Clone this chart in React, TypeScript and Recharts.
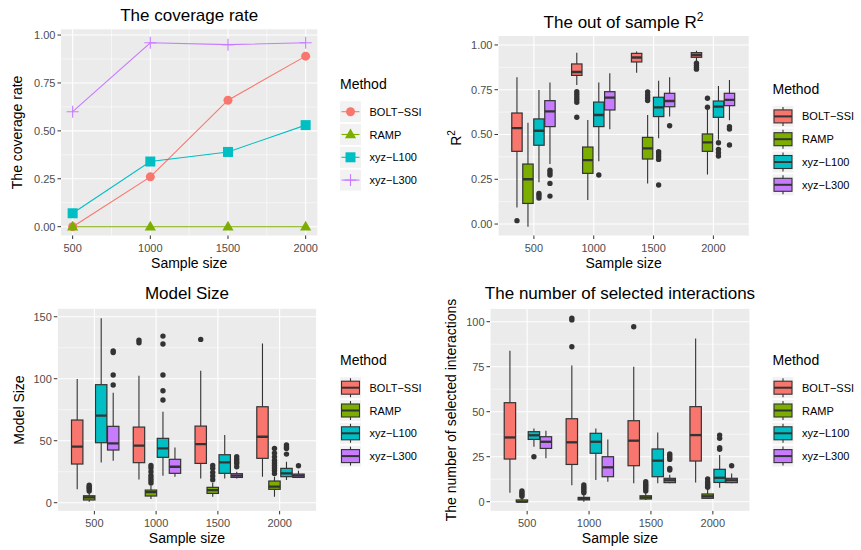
import React from 'react';
import { LineChart, Line, BarChart, Bar, XAxis, YAxis, CartesianGrid } from 'recharts';

const FONT = '"Liberation Sans", Arial, Helvetica, sans-serif';

const sampleSizes = [500, 1000, 1500, 2000];
const methodNames = ['BOLT−SSI', 'RAMP', 'xyz−L100', 'xyz−L300'];
const methodKeys = ['bolt', 'ramp', 'l100', 'l300'];
const methodColors = ['#F8766D', '#7CAE00', '#00BFC4', '#C77CFF'];
const markerKinds = ['circle', 'triangle', 'square', 'plus'];

// coverage rate
const coverageBolt = [0, 0.26, 0.66, 0.89];
const coverageRamp = [0, 0, 0, 0];
const coverageL100 = [0.07, 0.34, 0.39, 0.53];
const coverageL300 = [0.6, 0.96, 0.95, 0.96];

// box stats: [lower whisker, Q1, median, Q3, upper whisker] per sample size
const r2Bolt = [[0.093, 0.406, 0.536, 0.62, 0.819], [0.776, 0.83, 0.849, 0.894, 0.957], [0.845, 0.905, 0.93, 0.953, 0.963], [0.907, 0.931, 0.944, 0.957, 0.968]];
const r2Ramp = [[-0.015, 0.115, 0.25, 0.335, 0.566], [0.134, 0.283, 0.357, 0.43, 0.581], [0.227, 0.363, 0.423, 0.484, 0.609], [0.276, 0.406, 0.456, 0.503, 0.64]];
const r2L100 = [[0.233, 0.44, 0.521, 0.587, 0.749], [0.35, 0.544, 0.609, 0.681, 0.791], [0.479, 0.6, 0.652, 0.708, 0.8], [0.47, 0.596, 0.656, 0.687, 0.771]];
const r2L300 = [[0.335, 0.544, 0.629, 0.689, 0.791], [0.529, 0.637, 0.706, 0.739, 0.842], [0.6, 0.655, 0.687, 0.73, 0.819], [0.58, 0.661, 0.693, 0.73, 0.805]];
const r2BoltOut = [[0.019], [0.739, 0.725, 0.71, 0.695, 0.68, 0.596], [], [0.898, 0.886, 0.875, 0.865]];
const r2RampOut = [[], [], [0.737, 0.72, 0.705, 0.69], [0.652, 0.702]];
const r2L100Out = [[0.171, 0.16, 0.145], [0.274], [0.404, 0.391, 0.376, 0.361, 0.218], [0.454, 0.417, 0.398, 0.38]];
const r2L300Out = [[0.3, 0.287, 0.274, 0.227, 0.156], [], [0.549], [0.544, 0.531, 0.441]];

const sizeBolt = [[10.8, 31.2, 45.2, 66.7, 99.7], [18.8, 32.3, 46, 61, 102.4], [19.6, 31.7, 47.3, 61.8, 106.5], [21, 35.8, 53.2, 77.4, 128.5]];
const sizeRamp = [[0.8, 2.2, 4.3, 5.6, 8], [3, 5.4, 8.6, 10.2, 14], [4.8, 7.5, 10.2, 12.4, 16], [4.8, 10.8, 12.9, 17.5, 21]];
const sizeL100 = [[32.5, 48.4, 70.2, 95.2, 148.7], [21.8, 36.6, 43.8, 51.9, 73.4], [19.6, 23.7, 32.5, 38.7, 54.6], [18.3, 21, 23.7, 27.7, 33]];
const sizeL300 = [[33.9, 42.5, 47.8, 61.6, 88.7], [21, 23.7, 29, 35, 44.6], [19.6, 20.4, 21.8, 23.4, 25], [20.2, 20.4, 21.8, 23.1, 25.8]];
const sizeBoltOut = [[], [131, 129], [131.7], []];
const sizeRampOut = [[9.5, 11, 12, 13, 14.2], [16, 18, 20, 22, 25, 28, 30], [18.5, 21.5, 24.5, 27.7, 30], [23.5, 26, 28, 30, 32, 34, 37, 40, 43.8]];
const sizeL100Out = [[], [134.4, 128, 103, 90.3, 82.8], [], [46.5, 45, 43.8, 39.2]];
const sizeL300Out = [[121.2, 122.5, 103, 94.9], [], [37.1, 35, 33, 31.7, 29], [29.8]];

const interBolt = [[5, 23.7, 35.7, 55, 83.9], [9.1, 20.7, 33, 46.1, 75.6], [10.2, 20, 33.9, 45, 75], [10.7, 22.6, 37, 52.8, 90.7]];
const interRamp = [[0, 0, 0, 1, 2], [0, 1, 1.7, 2.4, 4], [0.9, 1.5, 2.4, 3.3, 5], [1.5, 1.9, 3, 4.3, 7]];
const interL100 = [[30.6, 34.6, 36.9, 38.9, 40.7], [12, 26.9, 33.3, 38, 40.7], [10.2, 13.9, 22.8, 29.3, 38.5], [7.8, 10.7, 13.3, 18, 26]];
const interL300 = [[24.1, 29.6, 33.3, 36.1, 39.4], [11.1, 13.9, 19.1, 25, 34.6], [10.2, 10.6, 11.9, 13, 15], [10.2, 10.6, 11.9, 13, 15.7]];
const interBoltOut = [[], [102, 101, 86.1], [97.2], []];
const interRampOut = [[3, 4, 5, 6], [5, 6, 7, 8, 9.3], [6, 7, 8, 9, 10, 11.1], [8, 9, 10, 11, 12.6]];
const interL100Out = [[25], [], [], [29.1, 30, 35.2, 37]];
const interL300Out = [[], [], [17.6, 18.5, 23.5, 24.5, 25.5, 26.5], [20]];

const probTicks = [0, 0.25, 0.5, 0.75, 1];
const probMinor = [0.125, 0.375, 0.625, 0.875];
const sizeTicks = [0, 50, 100, 150];
const sizeMinor = [25, 75, 125];
const interTicks = [0, 25, 50, 75, 100];
const interMinor = [12.5, 37.5, 62.5, 87.5];

const coverageData = sampleSizes.map((s, i) => ({
  size: s,
  bolt: coverageBolt[i],
  ramp: coverageRamp[i],
  l100: coverageL100[i],
  l300: coverageL300[i],
}));

function buildBoxRows(stats: number[][][], outs: number[][][]) {
  return sampleSizes.map((s, i) => {
    const row: any = { size: String(s) };
    methodKeys.forEach((k, m) => {
      const st = stats[m][i];
      const o = outs[m][i];
      row[k] = [Math.min(st[0], ...o), Math.max(st[4], ...o)];
      row[k + 'Stats'] = st;
      row[k + 'Out'] = o;
    });
    return row;
  });
}

const r2Data = buildBoxRows([r2Bolt, r2Ramp, r2L100, r2L300], [r2BoltOut, r2RampOut, r2L100Out, r2L300Out]);
const sizeData = buildBoxRows([sizeBolt, sizeRamp, sizeL100, sizeL300], [sizeBoltOut, sizeRampOut, sizeL100Out, sizeL300Out]);
const interData = buildBoxRows([interBolt, interRamp, interL100, interL300], [interBoltOut, interRampOut, interL100Out, interL300Out]);

const INK = '#333333';
const tickStyle = { fill: '#4D4D4D', fontSize: 11, fontFamily: FONT };

function Marker({ kind, color, cx, cy }: any) {
  if (kind === 'circle') return <circle cx={cx} cy={cy} r={4.5} fill={color} />;
  if (kind === 'triangle')
    return <polygon points={`${cx},${cy - 6} ${cx - 5.6},${cy + 3.8} ${cx + 5.6},${cy + 3.8}`} fill={color} />;
  if (kind === 'square') return <rect x={cx - 5} y={cy - 5} width={10} height={10} fill={color} />;
  return (
    <g stroke={color} strokeWidth={1.1}>
      <line x1={cx - 6} x2={cx + 6} y1={cy} y2={cy} />
      <line x1={cx} x2={cx} y1={cy - 6} y2={cy + 6} />
    </g>
  );
}

const makeDot = (kind: string, color: string) => (props: any) => (
  <Marker key={`d-${props.index}`} kind={kind} color={color} cx={props.cx} cy={props.cy} />
);

// the bar spans [lo, hi]; inner stats placed linearly inside it
const makeBox = (key: string, color: string) => (props: any) => {
  const { x, y, width, height, payload } = props;
  const [lo, hi] = payload[key];
  const st = payload[key + 'Stats'];
  const out = payload[key + 'Out'];
  const py = (v: number) => y + (height * (hi - v)) / (hi - lo);
  const cx = x + width / 2;
  return (
    <g>
      <line x1={cx} x2={cx} y1={py(st[4])} y2={py(st[3])} stroke={INK} strokeWidth={1.1} />
      <line x1={cx} x2={cx} y1={py(st[1])} y2={py(st[0])} stroke={INK} strokeWidth={1.1} />
      <rect x={x + 0.3} y={py(st[3])} width={width - 0.6} height={Math.max(py(st[1]) - py(st[3]), 0.5)} fill={color} stroke={INK} strokeWidth={1.2} />
      <line x1={x + 0.3} x2={x + width - 0.3} y1={py(st[2])} y2={py(st[2])} stroke={INK} strokeWidth={2.3} />
      {out.map((v: number, j: number) => (
        <circle key={j} cx={cx} cy={py(v)} r={2.7} fill={INK} />
      ))}
    </g>
  );
};

function BoxPanel({ data, yDomain, ticks, minor, fmt, yWidth, margin, xPad }: any) {
  return (
    <BarChart width={330} height={275} data={data} margin={margin} barCategoryGap="12.5%" barGap={0}>
      <CartesianGrid fill="#EBEBEB" stroke="#FFFFFF" strokeWidth={0.55} vertical={false} horizontalValues={minor} />
      <CartesianGrid stroke="#FFFFFF" strokeWidth={1.1} horizontalValues={ticks} />
      <XAxis
        dataKey="size"
        padding={{ left: xPad, right: xPad }}
        axisLine={false}
        tickLine={{ stroke: INK }}
        tickSize={3.5}
        tickMargin={5}
        height={30}
        tick={tickStyle}
        interval={0}
      />
      <YAxis
        type="number"
        domain={yDomain}
        allowDataOverflow
        ticks={ticks}
        tickFormatter={fmt}
        axisLine={false}
        tickLine={{ stroke: INK }}
        tickSize={3.5}
        tickMargin={2}
        width={yWidth}
        tick={tickStyle}
        interval={0}
      />
      {methodKeys.map((k, m) => (
        <Bar key={k} dataKey={k} fill={methodColors[m]} isAnimationActive={false} shape={makeBox(k, methodColors[m])} />
      ))}
    </BarChart>
  );
}

function LineKey({ x, cy, i }: any) {
  return (
    <g>
      <rect x={x} y={cy - 10.5} width={21} height={21} fill="#F2F2F2" />
      <line x1={x + 1.5} x2={x + 19.5} y1={cy} y2={cy} stroke={methodColors[i]} strokeWidth={1.1} />
      <Marker kind={markerKinds[i]} color={methodColors[i]} cx={x + 10.5} cy={cy} />
    </g>
  );
}

function BoxKey({ x, cy, i }: any) {
  const top = cy - 10.5;
  return (
    <g>
      <rect x={x} y={top} width={21} height={21} fill="#F2F2F2" />
      <line x1={x + 10.5} x2={x + 10.5} y1={top + 1} y2={top + 20} stroke={INK} strokeWidth={1.1} />
      <rect x={x + 1.5} y={top + 4} width={18} height={13} fill={methodColors[i]} stroke={INK} strokeWidth={1.1} />
      <line x1={x + 1.5} x2={x + 19.5} y1={cy} y2={cy} stroke={INK} strokeWidth={2} />
    </g>
  );
}

function LegendBlock({ x, titleY, kind }: any) {
  const first = titleY + 22.4;
  return (
    <g>
      <text x={x} y={titleY} fontSize={14} fill="#000">Method</text>
      {methodNames.map((name, i) => {
        const cy = first + i * 22.8;
        return (
          <g key={name}>
            {kind === 'line' ? <LineKey x={x} cy={cy} i={i} /> : <BoxKey x={x} cy={cy} i={i} />}
            <text x={x + 29.5} y={cy + 4} fontSize={11} fill="#000">{name}</text>
          </g>
        );
      })}
    </g>
  );
}

const fmt2 = (v: number) => v.toFixed(2);

export default function App() {
  return (
    <div style={{ position: 'absolute', left: 0, top: 0, width: 861, height: 550, background: '#fff', fontFamily: FONT }}>
      <div style={{ position: 'absolute', left: 0, top: 0 }}>
        <LineChart width={330} height={275} data={coverageData} margin={{ top: 29.3, right: 12.7, bottom: 9.5, left: 0 }}>
          <CartesianGrid fill="#EBEBEB" stroke="#FFFFFF" strokeWidth={0.55} horizontalValues={probMinor} verticalValues={[750, 1250, 1750]} />
          <CartesianGrid stroke="#FFFFFF" strokeWidth={1.1} horizontalValues={probTicks} verticalValues={sampleSizes} />
          <XAxis
            dataKey="size"
            type="number"
            domain={[425, 2075]}
            allowDataOverflow
            ticks={sampleSizes}
            axisLine={false}
            tickLine={{ stroke: INK }}
            tickSize={3.5}
            tickMargin={5}
            height={30}
            tick={tickStyle}
            interval={0}
          />
          <YAxis
            type="number"
            domain={[-0.046, 1.03]}
            allowDataOverflow
            ticks={probTicks}
            tickFormatter={fmt2}
            axisLine={false}
            tickLine={{ stroke: INK }}
            tickSize={3.5}
            tickMargin={2}
            width={61}
            tick={tickStyle}
            interval={0}
          />
          {methodKeys.map((k, m) => (
            <Line
              key={k}
              type="linear"
              dataKey={k}
              stroke={methodColors[m]}
              strokeWidth={1.1}
              dot={makeDot(markerKinds[m], methodColors[m])}
              activeDot={false}
              isAnimationActive={false}
            />
          ))}
        </LineChart>
      </div>
      <div style={{ position: 'absolute', left: 430, top: 0 }}>
        <BoxPanel data={r2Data} yDomain={[-0.064, 1.05]} ticks={probTicks} minor={probMinor} fmt={fmt2} yWidth={68} xPad={5.98}
          margin={{ top: 36, right: 10.7, bottom: 9.5, left: 0 }} />
      </div>
      <div style={{ position: 'absolute', left: 0, top: 275 }}>
        <BoxPanel data={sizeData} yDomain={[-6.6, 156.4]} ticks={sizeTicks} minor={sizeMinor} fmt={(v: number) => String(v)} yWidth={57.3} xPad={6.18}
          margin={{ top: 33.8, right: 13.3, bottom: 9.1, left: 0 }} />
      </div>
      <div style={{ position: 'absolute', left: 430, top: 275 }}>
        <BoxPanel data={interData} yDomain={[-5.1, 107.1]} ticks={interTicks} minor={interMinor} fmt={(v: number) => String(v)} yWidth={60} xPad={6.19}
          margin={{ top: 33.9, right: 10, bottom: 9.1, left: 0 }} />
      </div>
      <svg width={861} height={550} style={{ position: 'absolute', left: 0, top: 0, pointerEvents: 'none', fontFamily: FONT }}>
        <text x={189.2} y={20.7} fontSize={17} textAnchor="middle">The coverage rate</text>
        <text x={623.5} y={27.7} fontSize={17} textAnchor="middle">
          The out of sample R<tspan fontSize={12} dy={-7}>2</tspan>
        </text>
        <text x={187} y={299} fontSize={17} textAnchor="middle">Model Size</text>
        <text x={620} y={299} fontSize={17} textAnchor="middle">The number of selected interactions</text>

        <text x={189.2} y={267.7} fontSize={14} textAnchor="middle">Sample size</text>
        <text x={623.6} y={267.7} fontSize={14} textAnchor="middle">Sample size</text>
        <text x={187} y={543} fontSize={14} textAnchor="middle">Sample size</text>
        <text x={620} y={543} fontSize={14} textAnchor="middle">Sample size</text>

        <text x={22} y={132.4} fontSize={14} textAnchor="middle" transform="rotate(-90 22 132.4)">The coverage rate</text>
        <text x={461} y={138} fontSize={14} textAnchor="middle" transform="rotate(-90 461 138)">
          R<tspan fontSize={10} dy={-6}>2</tspan>
        </text>
        <text x={24} y={410} fontSize={14} textAnchor="middle" transform="rotate(-90 24 410)">Model Size</text>
        <text x={456} y={410} fontSize={14} textAnchor="middle" transform="rotate(-90 456 410)">The number of selected interactions</text>

        <LegendBlock x={340} titleY={89.3} kind="line" />
        <LegendBlock x={772.5} titleY={94} kind="box" />
        <LegendBlock x={340} titleY={365.3} kind="box" />
        <LegendBlock x={772.5} titleY={365.3} kind="box" />
      </svg>
    </div>
  );
}
